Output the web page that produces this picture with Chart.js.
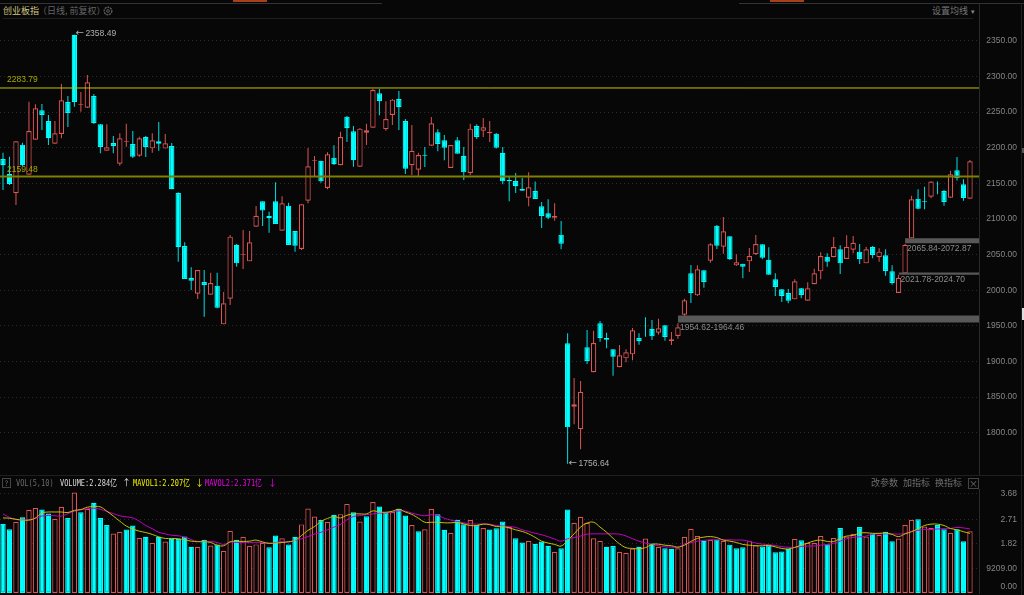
<!DOCTYPE html>
<html lang="zh">
<head>
<meta charset="utf-8">
<title>创业板指</title>
<script src="https://cdn.jsdelivr.net/npm/chart.js@4/dist/chart.umd.min.js"></script>
<style>
  html, body { margin: 0; padding: 0; background: #070707; overflow: hidden; }
  #page { position: relative; width: 1024px; height: 595px; background: #070707; font-family: "Noto Sans CJK SC", sans-serif; }
  canvas { position: absolute; left: 0; }
  .t { position: absolute; font-size: 9px; line-height: 12px; white-space: nowrap; }
  .m { font-family: "DejaVu Sans Mono", "Noto Sans CJK SC", monospace; font-size: 9px; transform: scaleX(0.77); transform-origin: left center; }
  .r { position: absolute; background: #1f1f1f; }
</style>
</head>
<body>
<div id="page">
  <div class="r" style="left:0;top:3px;width:382px;height:1px;background:#333"></div>
  <div class="r" style="left:233px;top:0;width:34px;height:2px;background:#a8401c"></div>
  <div class="r" style="left:739px;top:3px;width:285px;height:1px;background:#333"></div>
  <div class="r" style="left:770px;top:0;width:34px;height:2px;background:#a8401c"></div>
  <div class="r" style="left:3px;top:18px;width:970px;height:1px"></div>
  <div class="r" style="left:979px;top:3px;width:1px;height:16px;background:#2a2a2a"></div>
  <div class="r" style="left:0;top:475px;width:1024px;height:1px"></div>
  <div class="r" style="left:1021px;top:3px;width:1px;height:592px"></div>
  <div class="r" style="left:1022px;top:148px;width:2px;height:5px;background:#555"></div>
  <div class="r" style="left:1022px;top:308px;width:2px;height:12px;background:#ddd"></div>

  <div class="t" style="left:3px;top:5px;color:#d0c884">创业板指</div>
  <div class="t" style="left:38px;top:5px;color:#666">（日线, 前复权）</div>
  <svg style="position:absolute;left:103px;top:6px" width="10" height="10"><circle cx="5" cy="5" r="3.8" fill="none" stroke="#5c5c5c" stroke-width="1.4" stroke-dasharray="2 0.8"/><circle cx="5" cy="5" r="1.4" fill="none" stroke="#5c5c5c"/></svg>
  <div class="t" style="left:932px;top:5px;color:#777">设置均线</div>
  <div class="t" style="left:971px;top:5px;color:#888;font-size:7px">▾</div>

  <canvas id="priceChart" width="1024" height="475" style="top:0"></canvas>
  <canvas id="volChart" width="1024" height="120" style="top:475px"></canvas>

  <div class="t" style="left:2px;top:478px;width:7px;height:8px;line-height:8px;font-size:7px;border:1px solid #444;color:#777;text-align:center">?</div>
  <div class="t m" style="left:16px;top:477px;color:#6a6a6a">VOL(5,10)</div>
  <div class="t m" style="left:60px;top:477px;color:#dcdcdc">VOLUME:2.284亿</div>
  <div class="t" style="left:122px;top:477px;color:#dcdcdc">↑</div>
  <div class="t m" style="left:133px;top:477px;color:#f0f000">MAVOL1:2.207亿</div>
  <div class="t" style="left:195px;top:477px;color:#f0f000">↓</div>
  <div class="t m" style="left:205px;top:477px;color:#f000f0">MAVOL2:2.371亿</div>
  <div class="t" style="left:268px;top:477px;color:#f000f0">↓</div>
  <div class="t" style="left:871px;top:477px;color:#6f6f6f">改参数</div>
  <div class="t" style="left:903px;top:477px;color:#6f6f6f">加指标</div>
  <div class="t" style="left:935px;top:477px;color:#6f6f6f">换指标</div>
  <div class="t" style="left:968px;top:478px;width:9px;height:9px;line-height:9px;border:1px solid #444;color:#777;text-align:center">×</div>
</div>

<script>
// daily candles
const highs = [
  2193.0, 2187.4, 2209.0, 2207.1, 2264.6, 2260.9, 2261.3, 2245.9, 2237.5, 2289.4,
  2272.6, 2358.49, 2278.2, 2302.0, 2275.4, 2233.3, 2232.8, 2216.4, 2220.2, 2233.7,
  2223.5, 2215.5, 2216.4, 2220.2, 2236.1, 2219.3, 2206.6, 2137.4, 2067.2, 2032.1,
  2028.4, 2028.4, 2024.6, 2024.6, 1997.5, 2077.5, 2064.9, 2084.5, 2083.1, 2118.2,
  2124.7, 2110.2, 2151.4, 2131.8, 2122.9, 2083.1, 2120.5, 2199.6, 2188.4, 2181.8,
  2193.5, 2203.3, 2222.5, 2244.5, 2230.5, 2227.7, 2233.7, 2282.4, 2282.4, 2265.1,
  2268.4, 2279.6, 2240.3, 2231.9, 2193.0, 2201.0, 2243.1, 2225.8, 2217.8, 2203.8,
  2215.0, 2201.0, 2233.7, 2232.8, 2241.7, 2237.5, 2220.6, 2201.0, 2160.3, 2164.5,
  2157.5, 2165.4, 2152.4, 2123.8, 2127.6, 2121.9, 2097.1, 1939.5, 1876.8, 1872.6,
  1944.2, 1943.2, 1956.8, 1940.4, 1917.0, 1923.1, 1917.0, 1947.0, 1939.5, 1962.0,
  1958.2, 1960.1, 1950.7, 1941.4, 1953.5, 1988.2, 2035.4, 2034.9, 2027.9, 2065.8,
  2091.5, 2102.8, 2075.6, 2050.4, 2037.3, 2059.3, 2077.5, 2064.4, 2060.2, 2023.7,
  2001.3, 2001.7, 2015.3, 2003.1, 2011.1, 2030.3, 2053.2, 2051.8, 2074.7, 2063.0,
  2077.0, 2076.1, 2064.9, 2061.1, 2062.1, 2058.8, 2057.4, 2034.9, 2021.4, 2064.9,
  2132.7, 2141.6, 2145.3, 2152.8, 2152.4, 2140.7, 2167.8, 2187.0, 2155.6, 2182.8
];
const opens = [
  2184.2, 2163.1, 2136.0, 2204.3, 2162.2, 2211.3, 2252.5, 2237.5, 2205.7, 2219.3,
  2264.2, 2358.49, 2259.9, 2256.2, 2272.6, 2232.8, 2195.8, 2206.6, 2177.6, 2208.5,
  2205.2, 2188.8, 2215.0, 2199.1, 2209.0, 2198.7, 2202.4, 2136.4, 2062.1, 2017.6,
  1995.2, 2011.5, 1993.8, 2006.4, 1952.1, 1988.2, 2063.9, 2049.9, 2040.5, 2089.2,
  2124.7, 2104.2, 2124.7, 2083.6, 2118.7, 2083.1, 2057.9, 2125.7, 2181.8, 2181.8,
  2143.5, 2186.0, 2175.3, 2243.6, 2223.0, 2173.4, 2221.1, 2228.1, 2276.3, 2225.8,
  2245.9, 2268.4, 2237.5, 2175.3, 2169.2, 2190.2, 2202.9, 2221.6, 2210.4, 2171.5,
  2210.4, 2188.8, 2164.5, 2230.5, 2223.9, 2220.2, 2219.7, 2193.0, 2154.7, 2153.3,
  2142.5, 2129.9, 2139.3, 2117.7, 2107.9, 2101.8, 2078.0, 1925.5, 1836.6, 1804.8,
  1919.8, 1884.8, 1953.5, 1933.0, 1917.0, 1891.8, 1904.4, 1910.0, 1933.0, 1950.3,
  1946.0, 1940.4, 1950.7, 1928.7, 1935.8, 1965.7, 2023.7, 1992.8, 2027.9, 2041.5,
  2090.6, 2061.1, 2075.6, 2034.9, 2037.3, 2040.5, 2050.4, 2064.4, 2042.9, 2015.3,
  2001.3, 1996.1, 1987.2, 2002.7, 1985.3, 2008.3, 2026.5, 2047.1, 2046.2, 2057.4,
  2043.8, 2056.9, 2054.1, 2037.7, 2060.7, 2046.2, 2049.0, 2026.5, 1996.1, 2023.7,
  2072.8, 2128.5, 2125.2, 2131.3, 2149.5, 2139.3, 2129.9, 2168.3, 2148.6, 2128.5
];
const closes = [
  2175.3, 2149.1, 2209.0, 2175.3, 2223.5, 2255.3, 2245.9, 2213.2, 2220.2, 2266.5,
  2248.7, 2264.2, 2260.9, 2291.8, 2234.7, 2201.0, 2200.5, 2202.4, 2213.2, 2209.4,
  2187.4, 2213.2, 2201.0, 2210.4, 2205.7, 2206.1, 2141.6, 2060.2, 2015.8, 2013.4,
  2028.4, 2007.3, 2010.1, 1975.5, 1981.6, 2075.2, 2037.7, 2050.8, 2067.2, 2104.6,
  2111.7, 2100.9, 2092.9, 2121.9, 2063.5, 2062.5, 2120.5, 2173.9, 2182.8, 2152.8,
  2190.7, 2176.7, 2215.0, 2227.2, 2182.3, 2226.7, 2224.4, 2281.0, 2265.6, 2240.3,
  2267.4, 2256.7, 2170.6, 2195.8, 2189.8, 2188.8, 2234.2, 2205.2, 2200.1, 2203.8,
  2191.6, 2165.4, 2226.7, 2215.0, 2228.6, 2222.1, 2200.1, 2152.8, 2152.8, 2145.8,
  2139.7, 2144.4, 2128.0, 2104.2, 2101.8, 2104.2, 2065.3, 1807.6, 1839.9, 1857.6,
  1900.7, 1925.9, 1932.5, 1930.6, 1906.8, 1908.6, 1912.8, 1943.7, 1928.3, 1949.3,
  1935.3, 1946.5, 1934.4, 1931.1, 1947.9, 1985.8, 1996.1, 2029.3, 2011.5, 2064.4,
  2062.5, 2082.6, 2043.4, 2039.1, 2033.1, 2048.0, 2064.9, 2045.7, 2021.8, 2004.5,
  1991.9, 1985.3, 2012.5, 1993.3, 2002.7, 2023.7, 2048.0, 2040.1, 2060.7, 2037.7,
  2061.1, 2066.7, 2043.8, 2057.4, 2049.4, 2054.1, 2027.0, 2010.1, 2017.6, 2063.9,
  2127.6, 2114.5, 2124.3, 2152.4, 2148.6, 2123.8, 2162.6, 2157.0, 2129.4, 2180.9
];
const lows = [
  2140.7, 2147.7, 2119.6, 2174.3, 2162.2, 2211.3, 2224.9, 2203.8, 2205.7, 2213.2,
  2229.1, 2257.6, 2250.6, 2256.2, 2233.3, 2192.1, 2195.8, 2192.1, 2174.8, 2201.5,
  2185.6, 2187.4, 2187.0, 2193.0, 2195.8, 2198.7, 2141.6, 2040.1, 2015.8, 2000.3,
  1987.7, 1962.9, 1993.8, 1974.6, 1952.1, 1979.3, 2033.1, 2029.8, 2040.5, 2089.2,
  2090.1, 2080.8, 2092.9, 2083.6, 2063.5, 2054.1, 2056.4, 2121.9, 2160.3, 2150.9,
  2141.6, 2175.7, 2175.3, 2208.0, 2173.4, 2173.4, 2203.8, 2228.1, 2245.4, 2223.9,
  2231.9, 2224.9, 2163.1, 2161.7, 2159.4, 2172.9, 2202.9, 2194.9, 2182.3, 2171.5,
  2191.6, 2154.7, 2161.7, 2212.2, 2215.0, 2208.0, 2198.7, 2148.6, 2124.7, 2136.4,
  2139.7, 2117.7, 2128.0, 2087.3, 2099.5, 2097.6, 2057.4, 1756.64, 1811.8, 1776.7,
  1896.5, 1884.8, 1927.8, 1918.4, 1880.1, 1891.8, 1898.8, 1901.6, 1923.6, 1934.8,
  1930.1, 1937.6, 1929.2, 1923.1, 1932.0, 1963.8, 1982.1, 1991.9, 2003.6, 2038.7,
  2057.9, 2051.3, 2042.4, 2034.0, 2016.7, 2025.6, 2049.4, 2043.4, 2021.8, 1991.9,
  1983.5, 1981.6, 1987.2, 1988.6, 1985.3, 2008.3, 2015.3, 2033.1, 2046.2, 2022.8,
  2043.8, 2051.8, 2036.8, 2037.7, 2044.8, 2040.1, 2020.4, 2007.8, 1996.1, 2023.7,
  2072.8, 2113.5, 2113.5, 2129.0, 2134.6, 2118.7, 2129.9, 2153.8, 2125.7, 2128.5
];

// volume in 亿
const volumes = [
  2.56, 2.36, 2.64, 2.81, 3.08, 3.15, 3.09, 2.94, 2.75, 3.19,
  2.78, 3.72, 2.99, 3.12, 3.34, 2.78, 2.52, 2.20, 2.27, 2.35,
  2.50, 2.04, 2.08, 1.86, 2.08, 1.91, 2.01, 2.00, 2.09, 1.71,
  1.71, 1.97, 1.76, 1.80, 1.56, 2.30, 1.97, 2.08, 1.75, 1.80,
  1.86, 1.69, 2.13, 2.03, 1.80, 2.08, 2.54, 3.13, 2.83, 2.70,
  2.64, 2.89, 2.92, 3.30, 2.99, 2.65, 2.84, 3.37, 3.20, 2.98,
  3.00, 3.12, 2.87, 2.52, 2.29, 2.36, 3.12, 2.92, 2.34, 2.23,
  2.71, 2.55, 2.70, 2.52, 2.41, 2.35, 2.40, 2.65, 2.44, 2.03,
  1.87, 1.93, 1.82, 1.91, 1.75, 1.53, 1.66, 3.09, 2.60, 2.82,
  2.60, 2.03, 1.93, 1.71, 1.74, 1.53, 1.49, 1.65, 1.71, 2.02,
  1.83, 1.71, 1.66, 1.64, 1.66, 2.08, 2.38, 2.11, 1.93, 1.97,
  1.98, 1.93, 1.79, 1.66, 1.69, 1.92, 1.77, 1.72, 1.77, 1.51,
  1.54, 1.64, 2.01, 1.95, 1.85, 1.85, 2.11, 1.81, 2.04, 2.41,
  2.09, 2.19, 2.44, 2.09, 2.20, 2.16, 2.27, 1.92, 2.02, 2.52,
  2.71, 2.73, 2.46, 2.41, 2.52, 2.36, 2.23, 2.36, 1.92, 2.284
];
// 1 = red hollow bar, 0 = cyan bar
const volumeUp = [
  0, 0, 1, 0, 1, 1, 0, 0, 1, 1,
  0, 1, 0, 1, 0, 0, 0, 1, 1, 0,
  0, 1, 0, 1, 0, 1, 0, 0, 0, 0,
  1, 0, 1, 0, 1, 1, 0, 1, 1, 1,
  1, 0, 0, 1, 0, 0, 1, 1, 1, 0,
  1, 0, 1, 1, 0, 1, 0, 1, 0, 0,
  1, 0, 0, 1, 0, 1, 1, 0, 0, 1,
  0, 0, 1, 0, 1, 0, 0, 0, 1, 0,
  0, 1, 0, 0, 0, 1, 0, 0, 1, 1,
  1, 1, 1, 0, 0, 1, 1, 1, 0, 1,
  0, 1, 0, 0, 1, 1, 1, 1, 0, 1,
  0, 1, 0, 0, 0, 1, 1, 0, 0, 0,
  0, 0, 1, 0, 1, 1, 1, 0, 1, 0,
  1, 1, 0, 1, 0, 1, 0, 0, 1, 1,
  1, 0, 1, 1, 0, 0, 1, 0, 0, 1
];
const mavol1 = [
  2.78, 2.77, 2.73, 2.70, 2.70, 2.78, 2.96, 3.00, 3.00, 3.00,
  2.98, 3.06, 3.09, 3.18, 3.20, 3.19, 3.03, 2.85, 2.66, 2.48,
  2.37, 2.29, 2.24, 2.17, 2.08, 2.02, 2.02, 2.01, 1.97, 1.92,
  1.90, 1.90, 1.87, 1.77, 1.75, 1.90, 1.91, 1.91, 1.92, 1.96,
  1.89, 1.84, 1.85, 1.87, 1.90, 1.95, 2.13, 2.32, 2.46, 2.65,
  2.76, 2.83, 2.78, 2.88, 2.93, 2.93, 2.93, 3.04, 3.00, 2.99,
  3.03, 3.10, 3.00, 2.91, 2.77, 2.62, 2.62, 2.62, 2.60, 2.60,
  2.61, 2.56, 2.50, 2.50, 2.55, 2.53, 2.46, 2.46, 2.41, 2.34,
  2.28, 2.19, 2.06, 1.92, 1.85, 1.80, 1.74, 1.95, 2.19, 2.44,
  2.59, 2.62, 2.44, 2.25, 2.03, 1.82, 1.68, 1.65, 1.64, 1.68,
  1.80, 1.81, 1.77, 1.75, 1.70, 1.77, 1.91, 2.02, 2.07, 2.09,
  2.05, 1.96, 1.92, 1.87, 1.80, 1.77, 1.75, 1.75, 1.76, 1.71,
  1.65, 1.63, 1.69, 1.77, 1.85, 1.93, 1.96, 1.91, 1.91, 2.02,
  2.11, 2.13, 2.22, 2.23, 2.21, 2.21, 2.22, 2.17, 2.09, 2.19,
  2.27, 2.38, 2.50, 2.55, 2.55, 2.50, 2.39, 2.34, 2.27, 2.207
];
const mavol2 = [
  2.93, 2.80, 2.72, 2.71, 2.71, 2.76, 2.85, 2.87, 2.86, 2.85,
  2.94, 3.03, 3.08, 3.12, 3.14, 3.10, 3.02, 2.94, 2.86, 2.82,
  2.78, 2.66, 2.50, 2.38, 2.25, 2.19, 2.14, 2.12, 2.07, 1.98,
  1.91, 1.91, 1.91, 1.87, 1.80, 1.88, 1.87, 1.87, 1.87, 1.88,
  1.86, 1.84, 1.87, 1.90, 1.88, 1.95, 2.01, 2.09, 2.18, 2.25,
  2.34, 2.44, 2.54, 2.71, 2.83, 2.87, 2.90, 2.93, 2.96, 2.97,
  3.00, 3.04, 3.03, 2.96, 2.90, 2.86, 2.90, 2.87, 2.77, 2.70,
  2.65, 2.60, 2.56, 2.55, 2.56, 2.55, 2.50, 2.48, 2.46, 2.43,
  2.34, 2.28, 2.21, 2.16, 2.08, 2.00, 1.92, 2.01, 2.05, 2.11,
  2.18, 2.19, 2.19, 2.19, 2.19, 2.18, 2.11, 2.01, 1.92, 1.85,
  1.80, 1.75, 1.71, 1.70, 1.69, 1.82, 1.86, 1.92, 1.95, 1.97,
  1.97, 1.97, 1.97, 1.96, 1.96, 1.91, 1.85, 1.81, 1.79, 1.76,
  1.72, 1.69, 1.69, 1.72, 1.74, 1.74, 1.77, 1.80, 1.84, 1.92,
  2.01, 2.06, 2.08, 2.11, 2.18, 2.19, 2.19, 2.19, 2.18, 2.21,
  2.29, 2.32, 2.35, 2.35, 2.37, 2.38, 2.39, 2.43, 2.41, 2.371
];

const priceTicks = [1800, 1850, 1900, 1950, 2000, 2050, 2100, 2150, 2200, 2250, 2300, 2350];
const volTicks = [0.92, 1.82, 2.71, 3.68];
const volTickLabels = ['9209.00', '1.82', '2.71', '3.68'];

const levelValues = [2283.79, 2159.48];
const levelColors = ['#c6c600', '#7f7f00'];
const zoneLows = [1954.62, 2065.84, 2021.78];
const zoneHighs = [1964.46, 2072.87, 2024.70];
const zoneStartBars = [104, 139, 138];
const highBar = 11;
const lowBar = 87;

const BG = '#070707';
const RED = '#dc5555';
const CYAN = '#00ffff';
const AXIS_TEXT = '#858585';
const LABEL_FONT = '8.5px "Liberation Sans"';

const barIndex = highs.map((_, i) => i);
const xMin = -0.462;
const xMax = 150.39;

function xyPoints(values) {
    return values.map((v, i) => ({ x: i, y: v }));
}

function hLine(value, from, color, width) {
    return {
        type: 'line',
        data: [{ x: from, y: value }, { x: xMax, y: value }],
        borderColor: color,
        borderWidth: width,
        pointRadius: 0,
        order: 0
    };
}

function xScale() {
    return { type: 'linear', display: false, offset: false, min: xMin, max: xMax };
}

function yScale(min, max, tickValues, labelFn) {
    return {
        type: 'linear',
        position: 'right',
        min: min,
        max: max,
        afterFit: scale => {
            // keep the plot edges where they are, whatever the label height
            scale.width = 38;
            scale.paddingTop = 0;
            scale.paddingBottom = 0;
        },
        afterBuildTicks: scale => { scale.ticks = tickValues.map(v => ({ value: v })); },
        grid: { color: '#2a2a2a', lineWidth: 1, drawTicks: false },
        border: { color: '#2a2a2a', dash: [1, 3] },
        ticks: {
            autoSkip: false,
            crossAlign: 'far',
            padding: 0,
            color: AXIS_TEXT,
            font: { family: 'Liberation Sans', size: 8.5 },
            callback: labelFn
        }
    };
}

const commonOptions = {
    responsive: false,
    animation: false,
    events: [],
    plugins: { legend: { display: false }, tooltip: { enabled: false } }
};

// text notes tied to the price scale
const priceNotes = {
    id: 'priceNotes',
    afterDatasetsDraw(chart) {
        const { ctx, scales } = chart;
        const px = scales.x;
        const py = scales.y;
        const arrowNote = (bar, value, dy) => {
            const x = px.getPixelForValue(bar) + 1;
            const y = py.getPixelForValue(value) + dy;
            ctx.font = '10px "DejaVu Sans"';
            ctx.fillText('←', x, y);
            ctx.font = LABEL_FONT;
            ctx.fillText(value.toFixed(2), x + 10, y);
        };
        ctx.save();
        ctx.textBaseline = 'middle';
        ctx.textAlign = 'left';
        ctx.fillStyle = '#b0b0b0';
        arrowNote(highBar, highs[highBar], -1);
        arrowNote(lowBar, lows[lowBar], 0);
        ctx.font = LABEL_FONT;
        ctx.fillStyle = '#a8a800';
        ctx.fillText(levelValues[0].toFixed(2), 7, py.getPixelForValue(levelValues[0]) - 8);
        ctx.fillText(levelValues[1].toFixed(2), 7, py.getPixelForValue(levelValues[1]) - 7);
        ctx.fillStyle = '#8c8c8c';
        zoneLows.forEach((lo, i) => {
            const text = lo.toFixed(2) + '-' + zoneHighs[i].toFixed(2);
            ctx.fillText(text, px.getPixelForValue(zoneStartBars[i]) + 2, py.getPixelForValue(lo) + 5);
        });
        ctx.restore();
    }
};

new Chart(document.getElementById('priceChart'), {
    type: 'bar',
    data: {
        datasets: [
            ...levelValues.map((v, i) => hLine(v, xMin, levelColors[i], i + 1)),
            ...zoneHighs.map((hi, i) => ({
                ...hLine(hi, zoneStartBars[i], '#585858', 0),
                backgroundColor: '#585858',
                fill: { value: zoneLows[i] },
                order: 1
            })),
            {
                // bodies
                data: barIndex.map(i => ({ x: i, y: [opens[i], closes[i]] })),
                grouped: false,
                barThickness: 5.4,
                borderSkipped: false,
                inflateAmount: 0,
                borderWidth: 1.2,
                borderColor: barIndex.map(i => closes[i] >= opens[i] ? RED : CYAN),
                backgroundColor: barIndex.map(i => closes[i] >= opens[i] ? BG : CYAN),
                order: 2
            },
            {
                // wicks
                data: barIndex.map(i => ({ x: i, y: [lows[i], highs[i]] })),
                grouped: false,
                barThickness: 1,
                borderSkipped: false,
                inflateAmount: 0,
                borderWidth: 0,
                backgroundColor: barIndex.map(i => closes[i] >= opens[i] ? RED : '#00e0e0'),
                order: 3
            }
        ]
    },
    options: {
        ...commonOptions,
        layout: { padding: { top: 19, right: 7, bottom: 0, left: 0 } },
        scales: {
            x: xScale(),
            y: yScale(1740.7, 2380.6, priceTicks, value => value.toFixed(2))
        }
    },
    plugins: [priceNotes]
});

// the zero label sits a little above the baseline
const zeroLabel = {
    id: 'zeroLabel',
    afterDraw(chart) {
        const { ctx, scales } = chart;
        ctx.save();
        ctx.font = LABEL_FONT;
        ctx.textAlign = 'right';
        ctx.textBaseline = 'middle';
        ctx.fillStyle = AXIS_TEXT;
        ctx.fillText('0.00', scales.y.right, scales.y.getPixelForValue(0) - 6);
        ctx.restore();
    }
};

new Chart(document.getElementById('volChart'), {
    type: 'bar',
    data: {
        datasets: [
            {
                type: 'line',
                data: xyPoints(mavol1),
                borderColor: '#c4c400',
                borderWidth: 1,
                pointRadius: 0,
                tension: 0.4,
                order: 0
            },
            {
                type: 'line',
                data: xyPoints(mavol2),
                borderColor: '#c400c4',
                borderWidth: 1,
                pointRadius: 0,
                tension: 0.4,
                order: 1
            },
            {
                data: xyPoints(volumes),
                grouped: false,
                barThickness: 5.4,
                borderSkipped: false,
                inflateAmount: 0,
                borderWidth: 1.2,
                borderColor: barIndex.map(i => volumeUp[i] ? RED : CYAN),
                backgroundColor: barIndex.map(i => volumeUp[i] ? BG : CYAN),
                order: 2
            }
        ]
    },
    options: {
        ...commonOptions,
        layout: { padding: { top: 14, right: 7, bottom: 2, left: 0 } },
        scales: {
            x: xScale(),
            y: yScale(0, 3.852, volTicks, (value, index) => volTickLabels[index])
        }
    },
    plugins: [zeroLabel]
});
</script>
</body>
</html>
